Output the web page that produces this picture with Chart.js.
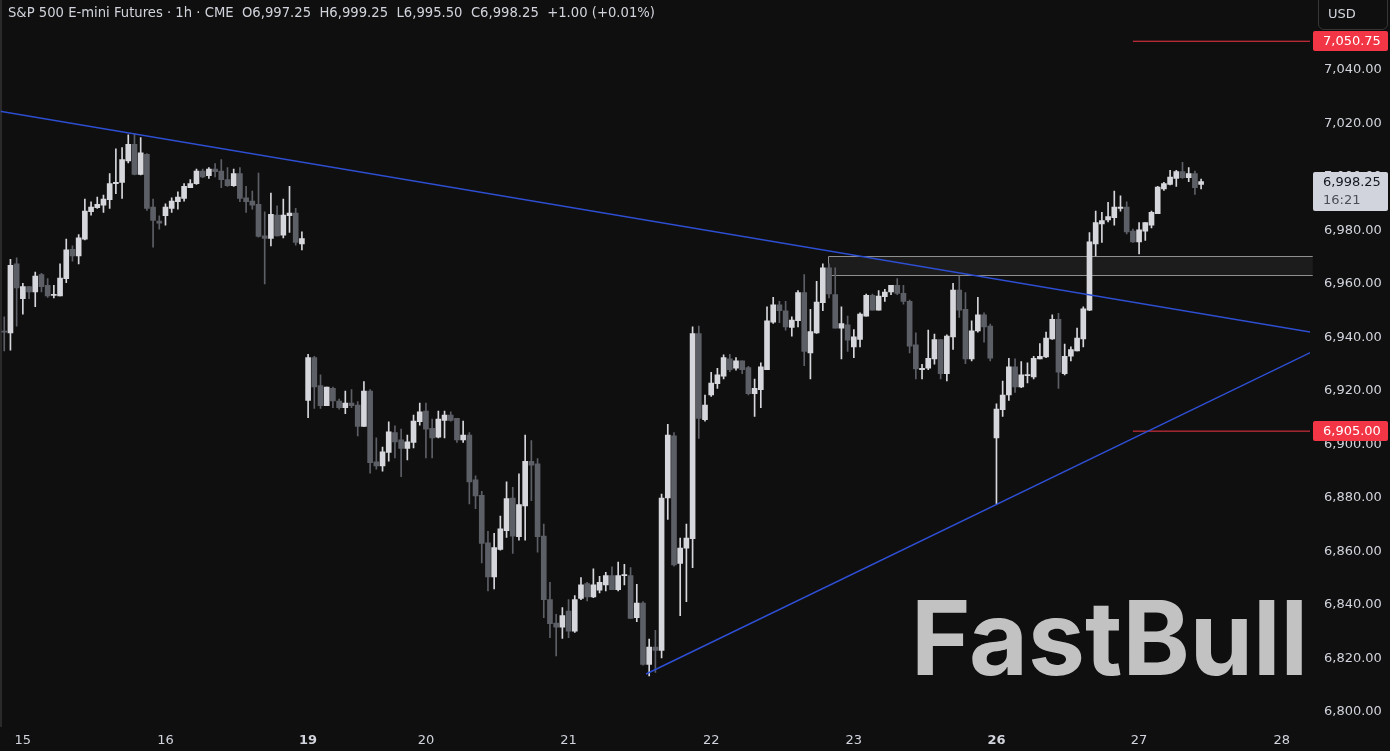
<!DOCTYPE html>
<html><head><meta charset="utf-8">
<script src="https://cdn.jsdelivr.net/npm/chart.js@4.4.1/dist/chart.umd.min.js"></script>
<style>
html,body{margin:0;padding:0;background:#0f0f0f;overflow:hidden;}
#wrap{position:relative;width:1390px;height:751px;background:#0f0f0f;}
canvas{display:block;position:absolute;left:0;top:0;}
#hdr{position:absolute;left:8px;top:5px;font:13.3px "DejaVu Sans",sans-serif;color:#d1d4dc;white-space:pre;transform-origin:0 0;}
#usd{position:absolute;left:1318px;top:-6px;width:70px;height:36px;border:1px solid #363636;border-radius:6px;box-sizing:border-box;}
#usdt{position:absolute;left:1328px;top:6px;font:13px "DejaVu Sans",sans-serif;color:#d1d4dc;}
#wm{position:absolute;left:911px;top:586px;font:700 103px "Inter",sans-serif;color:#c2c2c2;white-space:pre;transform-origin:0 0;line-height:1;}
</style></head><body>
<div id="wrap">
<canvas id="c" width="1390" height="751"></canvas>
<div id="hdr"></div>
<div id="usd"></div><div id="usdt">USD</div>
<div id="wm">FastBull</div>
</div>
<script>
// ---- data ----
const symbolTitle = "S&P 500 E-mini Futures · 1h · CME";
const changeText = "+1.00 (+0.01%)";
const dayTicks  = [3, 26, 49, 68, 91, 114, 137, 160, 183, 206];
const dayLabels = ["15","16","19","20","21","22","23","26","27","28"];
const weekStartLabels = ["19","26"];
const priceTicks = [6800,6820,6840,6860,6880,6900,6920,6940,6960,6980,7000,7020,7040];

const opens = [6942.25,6941.75,6967.5,6954.5,6959,6957,6963.5,6959.5,6955.75,6955.5,
6962,6973,6970.5,6976.75,6987,6988.5,6989.5,6991.5,6997.5,6998,
7006,7012.25,7001,7008.5,6988.75,6983.5,6985.5,6988.25,6990.75,6992,
6996,6997.5,7002.25,7000.5,7003,7002.25,6999,6996.75,7001.25,6992.25,
6991,6989.75,6978,6977,6985.75,6978.25,6985.5,6986.5,6975,6916.5,
6932.5,6922,6914.5,6921,6916.25,6913.75,6915.5,6914.75,6906.75,6920,
6893.5,6892,6897,6904.5,6901.75,6898.5,6900.75,6908.5,6912.5,6906,
6902.75,6909,6911,6909.75,6901.75,6903.5,6886.75,6881,6863.25,6850.5,
6860.75,6867.75,6880,6865.5,6877,6893.75,6892.75,6865.75,6842,6833.25,
6831.75,6837.75,6830.25,6842.5,6848,6843,6845.5,6847.5,6851,6845.75,
6851,6851,6835.25,6840.75,6817.75,6824.25,6823,6880,6903.25,6855.5,
6861.25,6864.75,6941.5,6909.25,6918.5,6922.75,6925.5,6932,6928.5,6931.25,
6928.75,6919,6920.5,6928,6945.75,6952.25,6950,6943.75,6946.25,6956.75,
6934.25,6941.75,6953,6966,6956,6943.5,6944.75,6936.5,6939.25,6948,
6955.75,6950.25,6955.25,6957,6959.5,6956.5,6953.5,6937.25,6928,6928.5,
6932,6939.25,6926.5,6940.25,6957.75,6950.5,6932,6942.5,6948.5,6944.25,
6902.5,6913,6918.5,6929,6921.5,6925.75,6925.25,6932,6932.75,6939.5,
6946.75,6926.5,6933,6935,6939.5,6950.25,6975,6982.5,6984,6984.75,
6988.25,6988.75,6979.75,6975.75,6979.75,6982,6986.25,6995.5,6997.25,6999.5,
7002,6999.75,7001.25,6997.25];
const highs = [6947.75,6969.25,6969.75,6960.25,6959,6964.5,6964,6962,6959.5,6967.5,
6976.75,6974.25,6978.5,6991.75,6990.75,6992.5,6993.25,7001.25,7010.5,7011,
7015.75,7016.25,7014.75,7008.75,6991.75,6985.5,6990,6992.25,6994.5,6997.5,
6999,7003,7003,7003.5,7005,7006.5,7003.5,7003,7003.5,6996.5,
6994.75,7001.5,6987,6994,6989.25,6991.75,6996.5,6988.25,6979.5,6933.75,
6933,6926,6921.5,6921.5,6917,6920,6920.5,6916,6923.5,6920.5,
6902.5,6899,6908.5,6907,6905.75,6903.5,6911,6915.5,6915.5,6909.5,
6912.5,6912.5,6912.25,6909.75,6908.75,6904.5,6888.25,6882.5,6867.5,6866.75,
6873.25,6886,6884,6889,6903.5,6901.5,6894.75,6870.25,6848.5,6836.5,
6839,6842,6843.5,6850.25,6848.5,6853.5,6850.75,6852.25,6854.25,6856,
6855.25,6854,6847.75,6841.25,6827.25,6830.5,6881.5,6907.5,6904.5,6865,
6870.25,6944,6944.25,6918.5,6927,6928.5,6933.5,6933.75,6932.5,6931.25,
6929.25,6924.5,6930.5,6951.5,6955,6953.5,6953.5,6947.75,6957.5,6963.5,
6950.5,6961,6967.5,6967.5,6966,6951.5,6948,6943,6949.25,6956.25,
6956.25,6957.5,6958,6959.5,6962,6959.5,6954,6941.75,6930,6942.75,
6941.25,6939.25,6941,6960.25,6963,6956.75,6946.25,6955,6949.25,6945,
6915.25,6923.75,6932.25,6932,6931,6930.5,6933,6937.75,6942,6948.5,
6949,6937.5,6936.5,6943.5,6951.5,6979.25,6987.25,6986.75,6990.5,6994.75,
6993,6990.75,6980.5,6983,6983,6987.25,6996.5,6998,7002.5,7002.5,
7005.5,7003.5,7002.25,6999.25];
const lows = [6935,6935.25,6944.25,6948.75,6954.5,6951.5,6957,6955,6954.75,6955.5,
6960.5,6968.5,6967.5,6976.5,6985.75,6988.25,6986.75,6988.25,6993.75,6992,
7005.25,7000.75,7000.75,6987.5,6973.75,6980.5,6982,6986.75,6988,6991,
6996,6997.25,6999.75,6999.5,7000,6996,6996.5,6996.5,6990.75,6986.75,
6988,6977.5,6960,6974.25,6978,6977.25,6979.25,6974.5,6972.75,6910,
6913.5,6913.5,6914.5,6913.75,6913.25,6911.5,6913.75,6903.25,6906.75,6889.25,
6890.75,6890,6893.75,6895,6888,6894.25,6898.75,6907.25,6895,6895,
6902.5,6902.5,6908.75,6900.75,6900.75,6877.75,6876,6855.75,6845.25,6846,
6860.5,6865.25,6859.25,6864.25,6864.25,6879,6859.75,6835.25,6827.75,6821,
6827.5,6827.75,6829.75,6842,6841.5,6842.75,6844.5,6845.25,6845.75,6845.25,
6847.5,6835,6833.75,6817.5,6813.5,6814.75,6820.25,6872,6854.5,6836,
6841.25,6854,6902.25,6908.75,6918,6921,6924.5,6927.25,6927.75,6926.5,
6918.5,6910.5,6913.75,6928,6945.25,6945.5,6942.75,6940.5,6944,6929.5,
6924.5,6941.5,6950,6954.75,6943.5,6932,6934.75,6932.5,6936.5,6948,
6950.25,6950.25,6953.5,6956,6956,6952.5,6934.25,6924.5,6924.5,6928,
6930,6924.5,6923.75,6935.5,6947.5,6930.25,6931.25,6942,6938.25,6931.25,
6877.75,6910.5,6916.5,6919.5,6921.25,6923,6924.5,6932,6932.5,6939.25,
6921,6926,6931.25,6935,6936.5,6950,6970.5,6975.5,6983.25,6982,
6987.25,6978.75,6975.5,6971.25,6976.25,6981,6986.25,6995,6997,6996.5,
6999.5,6998.25,6993.5,6995.5];
const closes = [6942,6967,6958.5,6959,6957,6963,6959,6955.5,6956,6962.25,
6972.75,6970.5,6977.25,6987.25,6988.75,6989.75,6991.75,6997.5,6998,7006.5,
7012.25,7001,7009,6988.25,6983.75,6982.75,6988.75,6991,6992.5,6996.5,
6997.5,7002.25,7000,7003,7002,6999,6996.75,7001.25,6992,6990.75,
6989.5,6977.75,6977,6986,6978,6985.75,6986.5,6975.5,6977,6932.5,
6921.5,6914.5,6921.5,6916.25,6913.75,6915.5,6914.5,6906.75,6920,6893.25,
6892,6897.25,6904.75,6901,6898.5,6901,6908.75,6912.25,6905.75,6902.5,
6909.5,6911,6909,6901.75,6903.5,6886,6880.75,6863,6850.5,6861.5,
6868.5,6879.75,6865.75,6877.5,6893.75,6892.25,6865.5,6842,6833,6831.75,
6836,6830.25,6842,6847.5,6843,6847.5,6848.5,6851,6845.75,6851,
6851.25,6835,6840.75,6817.75,6824.25,6823,6880,6903.5,6855,6861.25,
6865,6941.5,6909.75,6914.75,6923,6926,6932.5,6928,6931.25,6928,
6919,6921,6929,6946.25,6952.25,6950,6944,6946.5,6956.75,6934.75,
6942.25,6953.25,6966,6956.25,6943.5,6945.25,6939,6940.25,6948.75,6955.75,
6950.25,6955.5,6957,6959.5,6956.5,6953.5,6936.75,6928.25,6928.5,6932.25,
6939.25,6926.5,6940.5,6957.75,6950.25,6932,6942.5,6948.5,6944,6932.25,
6913.25,6918.5,6929,6921.5,6926,6926,6932.25,6933,6939.75,6946.75,
6927,6933,6935.5,6939.75,6950.75,6975.75,6983,6983.75,6985.25,6988.75,
6988.75,6979.5,6975.75,6980.25,6983,6986.75,6996.25,6997.5,7000,7002,
6999.75,7001.25,6996,6998.25];

// drawn annotations (data coordinates: candle index, price)
const downTrendX = [-1, 211];
const downTrendY = [7024.7, 6941.9];
const upTrendX = [103.5, 211];
const upTrendY = [6814.2, 6934.8];
const levelX = [182, 211];
const resistanceLevel = 7050.75;
const supportLevel = 6905.00;
const zoneX = [132.9, 211];
const zoneY = [6963.3, 6970.4];
const countdownText = "16:21";

// ---- build ----
const N = opens.length;
const UP = '#d6d7dc', DOWN = '#5d5f67';
const candleColors = opens.map((o,i)=> closes[i] >= o ? UP : DOWN);
const fmt = v => v.toLocaleString('en-US',{minimumFractionDigits:2,maximumFractionDigits:2});
const last = N-1;
const hdr = document.getElementById('hdr');
hdr.textContent =
  symbolTitle + "  O" + fmt(opens[last]) + "  H" + fmt(highs[last]) + "  L" + fmt(lows[last]) + "  C" + fmt(closes[last]) + "  " + changeText;

function fitWidth(el, target){
  const w = el.getBoundingClientRect().width;
  el.style.transform = 'scaleX(' + (target/w) + ')';
}
fitWidth(hdr, 647);
fitWidth(document.getElementById('wm'), 397);

// layout targets (pixel rows of the 7,040 and 6,800 ticks)
const PIX_TOP_TICK = 70, PIX_BOTTOM_TICK = 712;
const X_MIN = -0.564, X_MAX = 210.56;
const FONT = '"DejaVu Sans", sans-serif';

const overlay = {
  id:'overlay',
  beforeDatasetsDraw(chart){
    const {ctx, scales:{x,y}} = chart;
    ctx.save();
    const x0 = x.getPixelForValue(zoneX[0]), x1 = x.getPixelForValue(zoneX[1]);
    const y0 = y.getPixelForValue(zoneY[1]), y1 = y.getPixelForValue(zoneY[0]);
    ctx.fillStyle = '#1c1c1c';
    ctx.fillRect(x0, y0, x1-x0, y1-y0);
    ctx.strokeStyle = '#8f8f8f'; ctx.lineWidth = 1;
    ctx.beginPath();
    ctx.moveTo(x1, Math.round(y0)+0.5); ctx.lineTo(Math.round(x0)+0.5, Math.round(y0)+0.5);
    ctx.lineTo(Math.round(x0)+0.5, Math.round(y1)+0.5); ctx.lineTo(x1, Math.round(y1)+0.5);
    ctx.stroke();
    ctx.fillStyle = '#2a2a2a';
    ctx.fillRect(0,0,2,chart.chartArea.bottom);
    ctx.restore();
  },
  afterDraw(chart){
    const {ctx, scales:{y}} = chart;
    ctx.save();
    const tag = (price, bg, fg, h) => {
      const py = Math.round(y.getPixelForValue(price));
      ctx.fillStyle = bg;
      ctx.beginPath();
      ctx.roundRect(1313, py - 10, 75, h, 2);
      ctx.fill();
      ctx.fillStyle = fg;
      ctx.font = '13px ' + FONT;
      ctx.textBaseline = 'middle';
      ctx.fillText(fmt(price), 1323, py+0.5);
      return py;
    };
    tag(resistanceLevel, '#f23645', '#ffffff', 20);
    tag(supportLevel, '#f23645', '#ffffff', 20);
    const py = tag(closes[last], '#d1d4dc', '#131722', 39);
    ctx.fillStyle = '#4a4e5a';
    ctx.fillText(countdownText, 1323, py+19);
    ctx.restore();
  }
};

const lineDs = (xs, ys, color, w) => ({
  type:'line', data: xs.map((v,i)=>({x:v, y:ys[i]})), borderColor: color, borderWidth: w,
  pointRadius:0, fill:false, tension:0, order:0
});

const chart = new Chart(document.getElementById('c'), {
  type:'bar',
  data:{
    datasets:[
      { label:'wick', data: opens.map((o,i)=>({x:i, y:[lows[i], highs[i]]})),
        backgroundColor: candleColors, barThickness:1, grouped:false, order:2, minBarLength:1 },
      { label:'body', data: opens.map((o,i)=>({x:i, y:[o, closes[i]]})),
        backgroundColor: candleColors, barThickness:5, grouped:false, order:1, minBarLength:1 },
      lineDs(downTrendX, downTrendY, '#2e4fd4', 1.5),
      lineDs(upTrendX, upTrendY, '#2e4fd4', 1.5),
      lineDs(levelX, [resistanceLevel, resistanceLevel], '#f23645', 1),
      lineDs(levelX, [supportLevel, supportLevel], '#f23645', 1)
    ]
  },
  options:{
    responsive:false, animation:false, devicePixelRatio:1,
    layout:{padding:0},
    plugins:{legend:{display:false}, tooltip:{enabled:false}},
    scales:{
      x:{ type:'linear', min:X_MIN, max:X_MAX, offset:false,
        grid:{display:false, drawTicks:false}, border:{display:false},
        afterBuildTicks: s => { s.ticks = dayTicks.map(v=>({value:v})); },
        afterFit: s => { s.height = 24; },
        ticks:{ autoSkip:false, maxRotation:0, padding:6, color:'#d1d4dc',
          font: c => {
            const lbl = dayLabels[dayTicks.indexOf(c.tick && c.tick.value)];
            return {family:FONT, size:13, weight: weekStartLabels.includes(lbl) ? 'bold' : 'normal'};
          },
          callback: v => dayLabels[dayTicks.indexOf(v)] }
      },
      y:{ position:'right', min:6794, max:7066,
        grid:{display:false, drawTicks:false}, border:{display:false},
        afterBuildTicks: s => { s.ticks = priceTicks.map(v=>({value:v})); },
        afterFit: s => { s.width = 80; },
        ticks:{ padding:14, color:'#d1d4dc', font:{family:FONT, size:13},
          callback: v => fmt(v) }
      }
    }
  },
  plugins:[overlay]
});
// align the price scale so the 7,040 and 6,800 ticks land on their rows
(function(){
  const ca = chart.chartArea;
  const top = priceTicks[priceTicks.length-1], bot = priceTicks[0];
  const ppu = (PIX_BOTTOM_TICK - PIX_TOP_TICK) / (top - bot);
  chart.options.scales.y.max = top + (PIX_TOP_TICK - ca.top) / ppu;
  chart.options.scales.y.min = bot - (ca.bottom - PIX_BOTTOM_TICK) / ppu;
  chart.update();
})();
</script>
</body></html>
